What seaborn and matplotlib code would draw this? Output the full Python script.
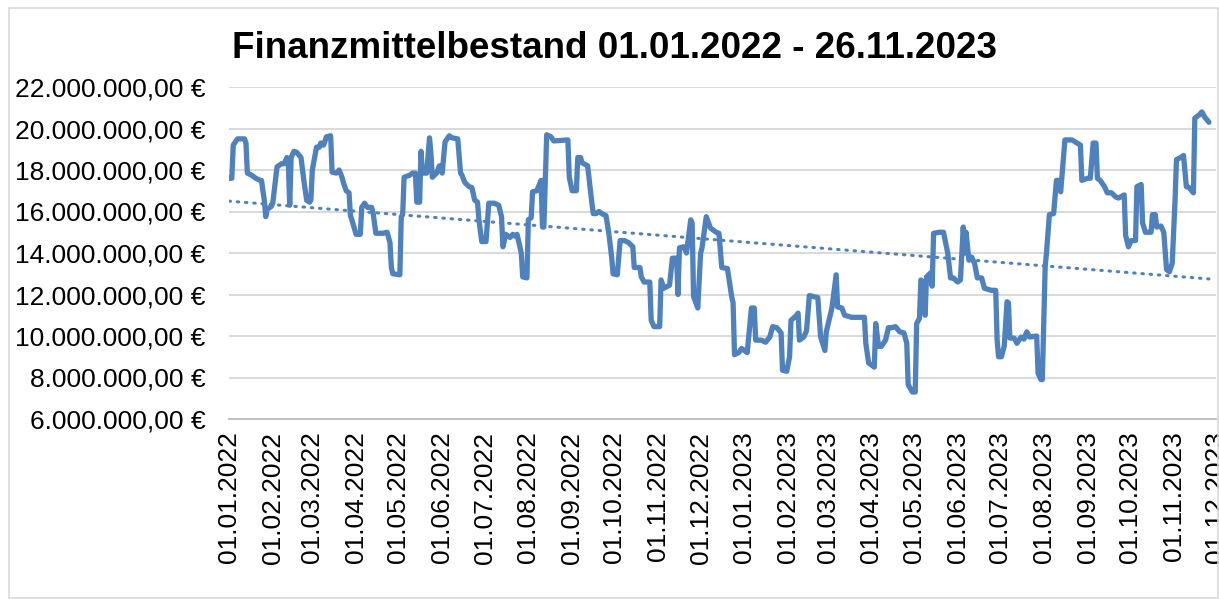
import matplotlib
matplotlib.use("Agg")
import matplotlib.pyplot as plt
import matplotlib.dates as mdates
from matplotlib.ticker import FuncFormatter, MultipleLocator
from matplotlib.patches import Rectangle
import seaborn as sns
import pandas as pd
import numpy as np

# Tage seit 01.01.2022 und Bestand in Mio. EUR
tage = [0, 2, 3, 6, 11, 12, 13, 16, 19, 22, 23, 24, 25, 26, 27, 30, 31, 34, 37, 39,
        41, 42, 43, 44, 46, 48, 51, 53, 55, 57, 58, 59, 62, 64, 65, 67, 69, 72, 73, 76,
        78, 80, 81, 83, 85, 86, 87, 90, 93, 94, 96, 98, 101, 102, 104, 109, 112, 114, 115, 116,
        121, 122, 123, 124, 128, 130, 132, 133, 135, 136, 137, 140, 142, 143, 144, 147, 149, 151, 153, 156,
        158, 162, 164, 165, 167, 170, 172, 174, 176, 177, 179, 182, 184, 188, 191, 193, 194, 196, 199, 201,
        203, 204, 207, 208, 211, 212, 214, 215, 218, 221, 222, 223, 225, 228, 230, 240, 241, 243, 246, 247,
        249, 250, 254, 257, 258, 260, 262, 264, 267, 269, 271, 272, 275, 277, 280, 283, 286, 287, 291, 292,
        294, 298, 299, 301, 305, 306, 308, 312, 314, 317, 318, 319, 322, 324, 327, 328, 329, 332, 334, 335,
        338, 341, 345, 347, 349, 353, 356, 357, 358, 361, 363, 367, 370, 372, 373, 377, 380, 383, 385, 388,
        391, 392, 395, 397, 398, 402, 403, 404, 407, 409, 411, 414, 417, 419, 422, 423, 427, 430, 431, 434,
        436, 441, 444, 450, 451, 453, 457, 458, 460, 462, 465, 467, 469, 472, 475, 478, 480, 481, 484, 486,
        487, 489, 490, 492, 493, 494, 497, 498, 499, 503, 506, 509, 511, 513, 516, 518, 520, 521, 522, 524,
        526, 528, 530, 533, 535, 540, 543, 544, 545, 547, 549, 551, 552, 553, 556, 558, 561, 563, 565, 567,
        572, 573, 575, 576, 578, 579, 581, 584, 586, 587, 589, 592, 597, 603, 604, 608, 610, 612, 614, 615,
        617, 620, 622, 625, 628, 630, 634, 635, 637, 639, 642, 643, 646, 647, 649, 653, 654, 656, 657, 660,
        662, 664, 666, 668, 670, 671, 674, 676, 678, 680, 683, 684, 687, 689, 691, 694]
bestand = [17.6, 17.6, 19.2, 19.5, 19.5, 19.3, 17.85, 17.75, 17.6, 17.5, 17.5, 17.0, 16.55, 15.75, 16.1, 16.25, 16.4, 18.15, 18.3, 18.3,
           18.6, 18.35, 16.3, 18.6, 18.9, 18.85, 18.6, 17.5, 16.55, 16.45, 16.55, 18.0, 19.1, 19.1, 19.3, 19.2, 19.6, 19.65, 17.9, 17.85,
           18.0, 17.65, 17.4, 17.0, 16.9, 15.8, 15.6, 14.9, 14.9, 16.2, 16.4, 16.2, 16.2, 15.95, 14.95, 14.95, 15.0, 14.5, 13.3, 13.0,
           12.95, 15.75, 15.85, 17.65, 17.75, 17.85, 17.85, 16.45, 16.45, 18.9, 17.85, 17.85, 19.55, 18.8, 17.65, 17.85, 18.2, 17.85, 19.35, 19.65,
           19.55, 19.5, 17.85, 17.75, 17.4, 17.2, 17.15, 16.55, 16.45, 15.6, 14.55, 14.55, 16.4, 16.4, 16.3, 15.75, 14.3, 14.9, 14.75, 14.9,
           14.8, 14.9, 14.0, 12.85, 12.8, 15.6, 15.7, 16.95, 17.0, 17.5, 15.25, 15.25, 19.7, 19.6, 19.4, 19.45, 17.65, 17.0, 17.0, 18.6,
           18.6, 18.35, 18.2, 16.4, 15.9, 15.9, 16.0, 15.9, 15.8, 14.95, 13.8, 13.0, 12.95, 14.6, 14.6, 14.5, 14.3, 13.3, 13.3, 12.85,
           12.6, 12.6, 10.75, 10.45, 10.45, 12.7, 12.3, 12.45, 13.75, 13.75, 12.0, 14.25, 14.3, 14.0, 15.6, 15.45, 11.9, 11.35, 14.0, 14.25,
           15.75, 15.2, 15.0, 14.95, 13.3, 13.25, 11.9, 11.6, 9.1, 9.2, 9.4, 9.2, 11.35, 11.35, 9.8, 9.8, 9.7, 9.95, 10.45, 10.4,
           10.15, 8.35, 8.3, 9.0, 10.75, 11.0, 11.1, 9.8, 9.95, 10.25, 11.95, 11.9, 11.85, 9.95, 9.3, 10.2, 11.35, 12.95, 11.4, 11.35,
           11.0, 10.9, 10.9, 10.9, 9.65, 8.7, 8.5, 10.6, 9.5, 9.5, 9.8, 10.4, 10.4, 10.45, 10.2, 10.15, 9.65, 7.65, 7.3, 7.3,
           10.6, 10.85, 12.7, 12.55, 11.0, 12.85, 13.05, 12.4, 14.95, 15.0, 15.0, 14.0, 12.8, 12.8, 12.6, 12.7, 15.25, 14.0, 15.0, 13.65,
           13.8, 13.5, 12.8, 12.8, 12.3, 12.2, 12.2, 9.8, 9.0, 9.0, 9.5, 11.65, 11.6, 9.9, 9.9, 9.65, 9.95, 9.85, 10.2, 9.95,
           10.0, 8.2, 7.9, 7.9, 13.3, 14.05, 15.85, 15.9, 17.5, 17.5, 16.95, 19.45, 19.45, 19.2, 17.5, 17.6, 17.6, 19.3, 19.3, 17.6,
           17.5, 17.2, 16.9, 16.9, 16.7, 16.65, 16.8, 14.85, 14.3, 14.6, 14.6, 17.2, 17.3, 15.45, 15.0, 15.0, 15.85, 15.85, 15.25, 15.3,
           15.0, 13.2, 13.1, 13.5, 16.55, 18.5, 18.6, 18.7, 17.2, 17.15, 16.9, 20.5, 20.65, 20.8, 20.55, 20.3]

# lineare Trendlinie (Anfang / Ende)
trend_tage = [0, 694]
trend_werte = [16.5, 12.75]

start = pd.Timestamp("2022-01-01")
df = pd.DataFrame({"datum": start + pd.to_timedelta(tage, unit="D"),
                   "wert": np.array(bestand) * 1e6})
trend = pd.DataFrame({"datum": start + pd.to_timedelta(trend_tage, unit="D"),
                      "wert": np.array(trend_werte) * 1e6})

sns.set_style("white")
plt.rcParams['font.family'] = ['Liberation Sans', 'DejaVu Sans']
plt.rcParams['text.color'] = 'black'
plt.rcParams['xtick.labelcolor'] = 'black'
plt.rcParams['ytick.labelcolor'] = 'black'

blau = "#4f81bd"
fig = plt.figure(figsize=(12.19, 5.99), dpi=100)
ax = fig.add_axes([229 / 1219, 1 - 419 / 599, (1216 - 229) / 1219, (419 - 87) / 599])

sns.lineplot(data=df, x="datum", y="wert", ax=ax, color=blau, linewidth=3.8, zorder=3)
sns.lineplot(data=trend, x="datum", y="wert", ax=ax, color=blau, linewidth=2.2,
             linestyle=(0, (0.5, 2.2)), dash_capstyle="round", zorder=4)

ax.set_xlim(start, pd.Timestamp("2023-12-01"))
ax.set_ylim(6e6, 22e6)
ax.yaxis.set_major_locator(MultipleLocator(2e6))


def euro(v, pos):
    s = f"{v:,.2f}".replace(",", "X").replace(".", ",").replace("X", ".")
    return s + " €"


ax.yaxis.set_major_formatter(FuncFormatter(euro))
ax.xaxis.set_major_locator(mdates.MonthLocator())
ax.xaxis.set_major_formatter(mdates.DateFormatter("%d.%m.%Y"))
ax.tick_params(axis="x", rotation=90, labelsize=19, length=5, width=1.2,
               color="#bfbfbf", pad=4, direction="out", labelcolor="black")
ax.tick_params(axis="y", labelsize=19, length=0, pad=17, labelcolor="black")

ax.grid(axis="y", color="#d9d9d9", linewidth=1.4)
ax.grid(axis="x", visible=False)
sns.despine(ax=ax, left=True, top=True, right=True)
ax.spines["bottom"].set_color("#bfbfbf")
ax.spines["bottom"].set_linewidth(1.4)
ax.set_xlabel("")
ax.set_ylabel("")

fig.text(0.504, 1 - 49 / 599, "Finanzmittelbestand 01.01.2022 - 26.11.2023",
         ha="center", va="center", fontsize=26.5, fontweight="bold", color="black")

fig.patches.append(Rectangle((9 / 1219, 1 / 599), 1 - 10 / 1219, 1 - 9 / 599,
                             transform=fig.transFigure, fill=False,
                             edgecolor="#d9d9d9", linewidth=1.2))

fig.savefig("out.png", dpi=100)
